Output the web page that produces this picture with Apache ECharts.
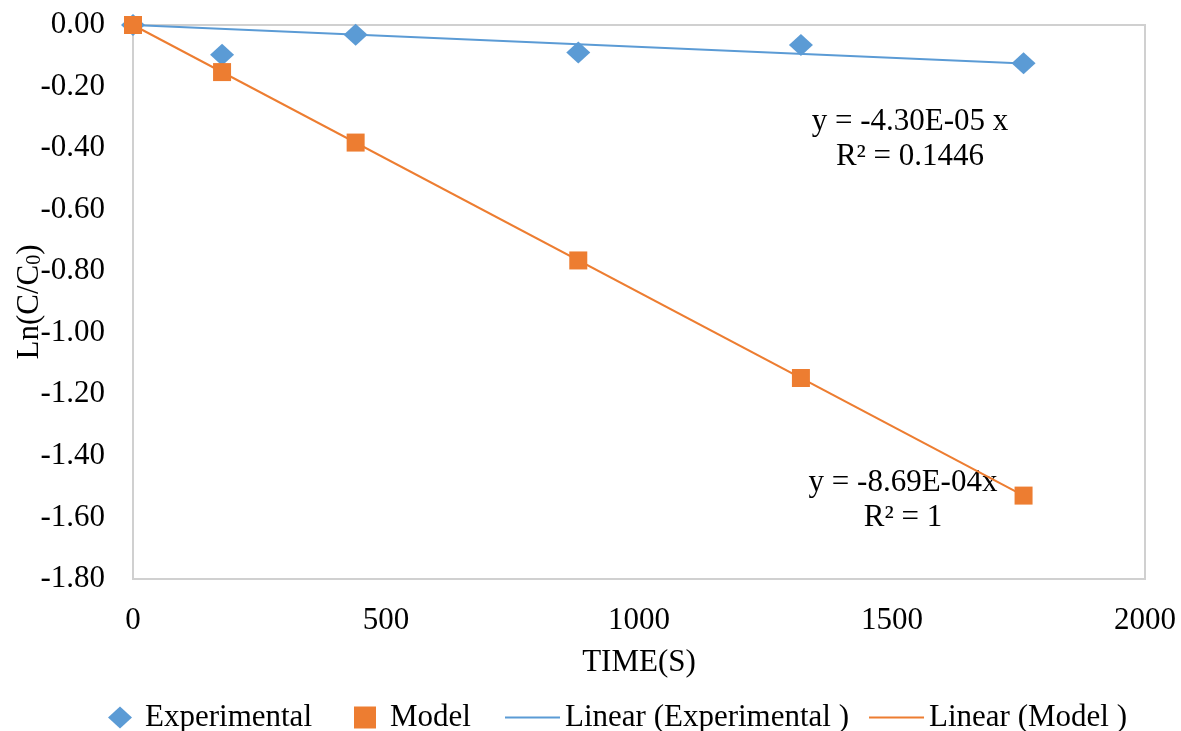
<!DOCTYPE html>
<html>
<head>
<meta charset="utf-8">
<script src="https://cdn.jsdelivr.net/npm/echarts@6/dist/echarts.min.js"></script>
<style>
  html, body { margin: 0; padding: 0; background: #fff; }
  #main { width: 1181px; height: 731px; }
</style>
</head>
<body>
<div id="main"></div>
<script>
// time points (s)
const timeS = [0, 176, 440, 880, 1320, 1760];
const experimental = [0, -0.097, -0.032, -0.089, -0.065, -0.124];
const model = [0, -0.153, -0.382, -0.765, -1.147, -1.529];
// trend line end points as drawn
const expTrendX = [0, 1760];
const expTrendY = [0, -0.125];
const modelTrendX = [0, 1760];
const modelTrendY = [0, -1.529];

const FONT = "'Liberation Serif', 'Times New Roman', serif";
const FS = 31;
const BLUE = '#5b9bd5';
const ORANGE = '#ed7d31';

function pairs(xs, ys){
    return xs.map((x, i) => [x, ys[i]]);
}

function eqText(x, y, text){
    return {
        type: 'text', x: x, y: y,
        style: { text: text, font: FS + "px " + FONT, fill: '#000', align: 'center', verticalAlign: 'middle' }
    };
}

let myChart = echarts.init(document.getElementById('main'));
let option = {
    backgroundColor: '#ffffff',
    animation: false,
    textStyle: { fontFamily: FONT, color: '#000' },
    grid: {
        left: 133, right: 36, top: 25, bottom: 152,
        outerBoundsMode: 'none',
        containLabel: false,
        show: true,
        borderColor: '#d0d0d0',
        borderWidth: 2
    },
    xAxis: {
        type: 'value',
        min: 0, max: 2000, interval: 500,
        name: 'TIME(S)',
        nameLocation: 'middle',
        nameGap: 68,
        nameMoveOverlap: false,
        nameTextStyle: { fontFamily: FONT, fontSize: FS, color: '#000' },
        axisLine: { show: false },
        axisTick: { show: false },
        splitLine: { show: false },
        axisLabel: { fontFamily: FONT, fontSize: FS, color: '#000', margin: 26, formatter: v => String(v) }
    },
    yAxis: {
        type: 'value',
        min: -1.8, max: 0, interval: 0.2,
        name: '{a|Ln(C/C}{s|0}{a|)}',
        nameLocation: 'middle',
        nameRotate: 90,
        nameGap: 88,
        nameMoveOverlap: false,
        nameTextStyle: {
            rich: {
                a: { fontFamily: FONT, fontSize: FS, color: '#000', lineHeight: 30, verticalAlign: 'bottom' },
                s: { fontFamily: FONT, fontSize: 20, color: '#000', lineHeight: 12, verticalAlign: 'bottom' }
            }
        },
        axisLine: { show: false },
        axisTick: { show: false },
        splitLine: { show: false },
        axisLabel: {
            fontFamily: FONT, fontSize: FS, color: '#000', margin: 28,
            formatter: v => v.toFixed(2)
        }
    },
    legend: [
        {
            left: 103, top: 697,
            itemWidth: 24, itemHeight: 22, itemGap: 42,
            textStyle: { fontFamily: FONT, fontSize: FS, color: '#000', padding: [0, 0, 0, 8] },
            data: [
                { name: 'Experimental', icon: 'diamond' },
                { name: 'Model', icon: 'path://M0,0 L10,0 L10,10 L0,10 Z' }
            ]
        },
        {
            left: 500, top: 697,
            itemWidth: 55, itemHeight: 2, itemGap: 20,
            textStyle: { fontFamily: FONT, fontSize: FS, color: '#000' },
            data: [
                { name: 'Linear (Experimental )', icon: 'rect' },
                { name: 'Linear (Model )', icon: 'rect' }
            ]
        }
    ],
    graphic: [
        eqText(910, 122, 'y = -4.30E-05 x'),
        eqText(910, 157, 'R² = 0.1446'),
        eqText(903, 483, 'y = -8.69E-04x'),
        eqText(903, 518, 'R² = 1')
    ],
    series: [
        {
            name: 'Linear (Experimental )',
            type: 'line',
            data: pairs(expTrendX, expTrendY),
            symbol: 'none',
            lineStyle: { color: BLUE, width: 2 },
            itemStyle: { color: BLUE },
            z: 2
        },
        {
            name: 'Linear (Model )',
            type: 'line',
            data: pairs(modelTrendX, modelTrendY),
            symbol: 'none',
            lineStyle: { color: ORANGE, width: 2 },
            itemStyle: { color: ORANGE },
            z: 2
        },
        {
            name: 'Experimental',
            type: 'scatter',
            data: pairs(timeS, experimental),
            symbol: 'diamond',
            symbolSize: [24, 22],
            itemStyle: { color: BLUE, opacity: 1 },
            z: 3
        },
        {
            name: 'Model',
            type: 'scatter',
            data: pairs(timeS, model),
            symbol: 'rect',
            symbolSize: 18,
            itemStyle: { color: ORANGE, opacity: 1 },
            z: 4
        }
    ]
};
myChart.setOption(option);
</script>
</body>
</html>
